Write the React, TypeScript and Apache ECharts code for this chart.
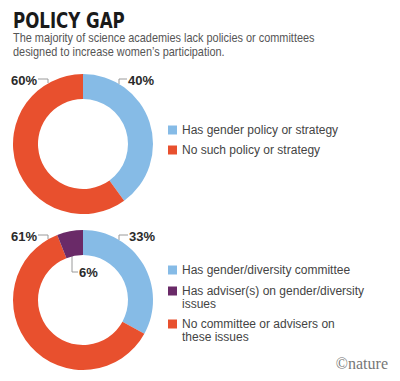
import React, { useEffect, useRef } from 'react';
import * as echarts from 'echarts';

const titleText = 'POLICY GAP';
const subtitleLines = [
  'The majority of science academies lack policies or committees',
  'designed to increase women\u2019s participation.',
];
const creditText = '\u00A9nature';

const policyNames = ['Has gender policy or strategy', 'No such policy or strategy'];
const policyValues = [40, 60];
const policyColors = ['#86bbe6', '#e8502e'];

const committeeNames = [
  'Has gender/diversity committee',
  'No committee or advisers on\nthese issues',
  'Has adviser(s) on gender/diversity\nissues',
];
const committeeValues = [33, 61, 6];
const committeeColors = ['#86bbe6', '#e8502e', '#6a2a68'];
const committeeLegendOrder = [0, 2, 1];

export default function App() {
  const ref = useRef<HTMLDivElement>(null);
  useEffect(() => {
    document.body.style.margin = '0';
    if (!ref.current) return;
    const chart = echarts.init(ref.current, null, { renderer: 'svg' });

    const labelStyle = {
      show: true,
      position: 'outside',
      formatter: '{c}%',
      color: '#2a2a2a',
      fontSize: 13,
      fontWeight: 'bold',
      overflow: 'none',
      width: 80,
      fontFamily: 'Liberation Sans, Arial, sans-serif',
    };
    const labelLine = { show: true, lineStyle: { color: '#9a9a9a', width: 1 } };

    // label placements (positions, not data)
    const topLayout = [
      { x: 128, y: 80, align: 'left', pts: [[119, 84], [119, 79], [127, 79]] },
      { x: 37, y: 80, align: 'right', pts: [[48, 83], [48, 79], [38, 79]] },
    ];
    const botLayout = [
      { x: 129, y: 236, align: 'left', pts: [[119, 240], [119, 235], [128, 235]] },
      { x: 37, y: 236, align: 'right', pts: [[48, 239], [48, 235], [38, 235]] },
      { x: 79, y: 272, align: 'left', pts: [[72, 256], [72, 272], [78, 272]] },
    ];
    const mkLayout = (arr: any[]) => (p: any) => {
      const L = arr[p.dataIndex];
      return { x: L.x, y: L.y, align: L.align, verticalAlign: 'middle', labelLinePoints: L.pts };
    };

    const legendText = {
      color: '#444',
      fontSize: 12,
      lineHeight: 13,
      fontFamily: 'Liberation Sans, Arial, sans-serif',
    };
    const mkLegend = (name: string, center: number) => {
      const multi = name.indexOf('\n') >= 0;
      return {
        left: 168,
        top: center - 6.5,
        orient: 'vertical',
        padding: 0,
        itemWidth: 9,
        itemHeight: multi ? 22 : 9,
        selectedMode: false,
        data: [{ name, icon: multi ? 'path://M0,0H9V9H0Z M0,22H9' : 'rect' }],
        textStyle: legendText,
      };
    };
    const topCenters = [130, 150];
    const botCenters = [270, 291, 324];
    const legends: any[] = [];
    policyNames.forEach((n, i) => legends.push(mkLegend(n, topCenters[i])));
    committeeLegendOrder.forEach((idx, i) => legends.push(mkLegend(committeeNames[idx], botCenters[i])));

    chart.setOption({
      animation: false,
      legend: legends,
      graphic: [
        {
          type: 'text',
          x: 13,
          y: 21,
          scaleX: 0.88,
          style: {
            text: titleText,
            font: 'bold 21px "Liberation Sans Narrow", "DejaVu Sans Condensed", "Liberation Sans", sans-serif',
            fill: '#1a1a1a',
            textVerticalAlign: 'middle',
            verticalAlign: 'middle',
          },
        },
        ...subtitleLines.map((t, i) => ({
          type: 'text',
          x: 13,
          y: 38 + i * 14,
          scaleX: 0.91,
          style: {
            text: t,
            font: '12px "Liberation Sans", Arial, sans-serif',
            fill: '#555',
            textVerticalAlign: 'middle',
            verticalAlign: 'middle',
          },
        })),
        {
          type: 'text',
          x: 388,
          y: 363,
          style: {
            text: creditText,
            font: '16px "Liberation Serif", "DejaVu Serif", serif',
            fill: '#777',
            textAlign: 'right',
            align: 'right',
            textVerticalAlign: 'middle',
            verticalAlign: 'middle',
          },
        },
      ],
      series: [
        {
          type: 'pie',
          center: [83, 144],
          radius: [45, 70],
          startAngle: 90,
          clockwise: true,
          silent: true,
          itemStyle: { borderWidth: 0 },
          label: labelStyle,
          labelLine,
          labelLayout: mkLayout(topLayout),
          data: policyNames.map((n, i) => ({ name: n, value: policyValues[i], itemStyle: { color: policyColors[i] } })),
        },
        {
          type: 'pie',
          center: [83, 300],
          radius: [45, 70],
          startAngle: 90,
          clockwise: true,
          silent: true,
          itemStyle: { borderWidth: 0 },
          label: labelStyle,
          labelLine,
          labelLayout: mkLayout(botLayout),
          data: committeeNames.map((n, i) => ({ name: n, value: committeeValues[i], itemStyle: { color: committeeColors[i] } })),
        },
      ],
    });
    return () => chart.dispose();
  }, []);
  return <div ref={ref} style={{ width: 400, height: 381, background: '#fff' }} />;
}
